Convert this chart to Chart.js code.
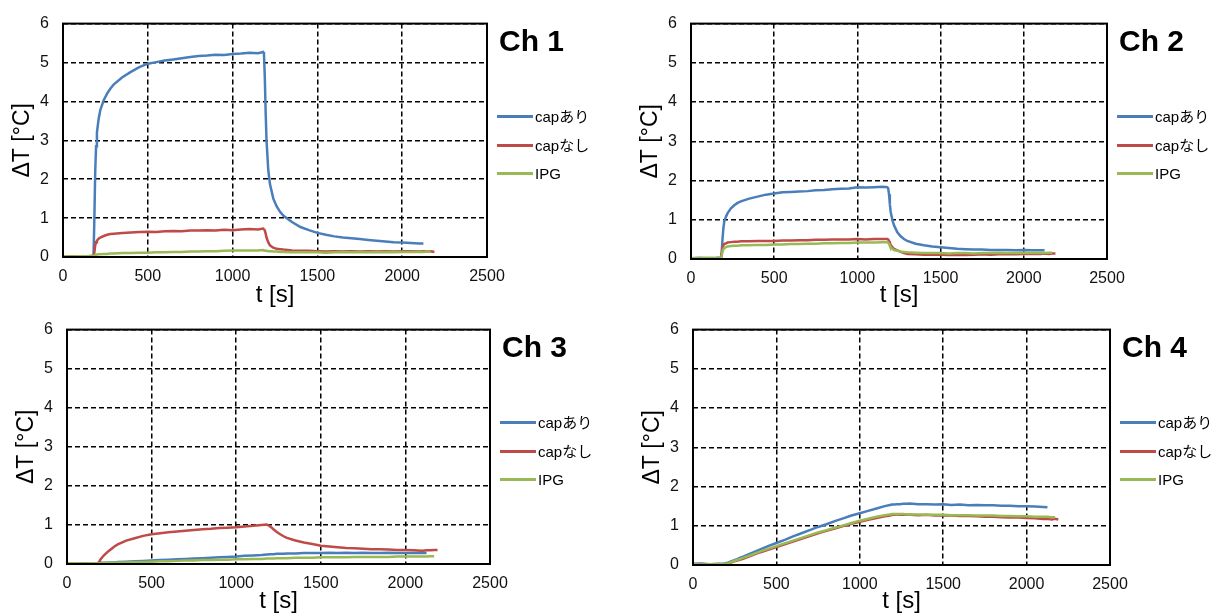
<!DOCTYPE html>
<html>
<head>
<meta charset="utf-8">
<script src="https://cdn.jsdelivr.net/npm/chart.js@4.4.1/dist/chart.umd.min.js"></script>
<style>
  html, body { margin: 0; padding: 0; background: #fff; width: 1214px; height: 616px; overflow: hidden; }
  body { position: relative; }
  canvas { position: absolute; }
</style>
</head>
<body>
<canvas id="ch1"></canvas>
<canvas id="ch2"></canvas>
<canvas id="ch3"></canvas>
<canvas id="ch4"></canvas>
<script>
// ---- sample times [s], shared by every series ----
const TIME = [
  0, 50, 100, 150, 180, 185, 190, 195, 200, 210, 220, 240, 260, 280,
  300, 350, 400, 450, 500, 550, 600, 650, 700, 750, 800, 850, 900, 950, 1000, 1050, 1100, 1150,
  1180, 1185, 1190, 1195, 1200, 1210, 1220, 1240, 1260, 1280, 1300,
  1350, 1400, 1450, 1500, 1550, 1600, 1650, 1700, 1750, 1800, 1850, 1900, 1950, 2000, 2050, 2100,
  2125, 2150, 2170, 2190
];

const SERIES_NAMES = ['capあり', 'capなし', 'IPG'];
const SERIES_COLORS = ['#4A7EBB', '#BE4B48', '#98B954'];
const CHANNEL_NAMES = ['Ch 1', 'Ch 2', 'Ch 3', 'Ch 4'];
const X_TICKS = [0, 500, 1000, 1500, 2000, 2500];
const Y_TICKS = [0, 1, 2, 3, 4, 5, 6];
const X_TITLE = 't [s]';
const Y_TITLE = 'ΔT [°C]';

// ---- ΔT [°C] per channel ----
const ch1Cap = [
  0.01, 0.02, 0.01, 0.02, 0.03, 1.0, 2.2, 2.85, 3.2, 3.55, 3.78, 4.03, 4.2, 4.33,
  4.44, 4.62, 4.76, 4.88, 4.97, 5.01, 5.05, 5.08, 5.11, 5.14, 5.17, 5.18, 5.2, 5.19, 5.22, 5.23, 5.25, 5.24,
  5.27, 5.22, 4.6, 3.7, 3.0, 2.25, 1.88, 1.5, 1.3, 1.16, 1.06,
  0.9, 0.77, 0.69, 0.62, 0.57, 0.53, 0.5, 0.48, 0.46, 0.44, 0.42, 0.4, 0.38, 0.37, 0.36, 0.35,
  0.35
];
const ch1NoCap = [
  0.0, 0.01, 0.0, 0.01, 0.01, 0.12, 0.3, 0.38, 0.42, 0.47, 0.5, 0.54, 0.57, 0.59,
  0.6, 0.62, 0.63, 0.64, 0.65, 0.64, 0.66, 0.67, 0.66, 0.68, 0.68, 0.69, 0.68, 0.7, 0.69, 0.71, 0.72, 0.71,
  0.73, 0.72, 0.68, 0.6, 0.5, 0.38, 0.3, 0.24, 0.21, 0.2, 0.19,
  0.17, 0.16, 0.16, 0.15, 0.14, 0.15, 0.14, 0.15, 0.14, 0.15, 0.14, 0.15, 0.14, 0.15, 0.15, 0.14,
  0.15, 0.14, 0.15, 0.13
];
const ch1Ipg = [
  0.02, 0.01, 0.02, 0.02, 0.03, 0.04, 0.05, 0.06, 0.06, 0.07, 0.07, 0.08, 0.08, 0.09,
  0.09, 0.1, 0.1, 0.11, 0.11, 0.12, 0.12, 0.13, 0.13, 0.14, 0.14, 0.15, 0.15, 0.16, 0.17, 0.17, 0.17, 0.17,
  0.18, 0.17, 0.17, 0.16, 0.16, 0.15, 0.15, 0.14, 0.14, 0.13, 0.13,
  0.12, 0.12, 0.12, 0.12, 0.11, 0.12, 0.12, 0.12, 0.13, 0.12, 0.12, 0.13, 0.12, 0.13, 0.13, 0.13,
  0.13, 0.14, 0.13
];

const ch2Cap = [
  0.02, 0.03, 0.02, 0.03, 0.04, 0.2, 0.55, 0.8, 0.95, 1.08, 1.17, 1.29, 1.37, 1.43,
  1.47, 1.54, 1.59, 1.64, 1.67, 1.7, 1.71, 1.72, 1.73, 1.75, 1.76, 1.78, 1.79, 1.8, 1.83, 1.82, 1.83, 1.84,
  1.83, 1.8, 1.65, 1.4, 1.2, 1.0, 0.86, 0.68, 0.58, 0.51, 0.46,
  0.39, 0.35, 0.32, 0.3, 0.28, 0.26, 0.25, 0.24, 0.24, 0.23, 0.23, 0.23, 0.22, 0.23, 0.22, 0.22,
  0.22
];
const ch2NoCap = [
  0.0, 0.01, 0.0, 0.01, 0.01, 0.15, 0.3, 0.35, 0.38, 0.4, 0.42, 0.43, 0.44, 0.44,
  0.45, 0.45, 0.46, 0.46, 0.46, 0.47, 0.47, 0.48, 0.48, 0.49, 0.49, 0.5, 0.5, 0.5, 0.51, 0.5, 0.51, 0.51,
  0.51, 0.5, 0.46, 0.41, 0.36, 0.3, 0.26, 0.22, 0.18, 0.15, 0.13,
  0.12, 0.11, 0.11, 0.11, 0.1, 0.11, 0.1, 0.11, 0.12, 0.11, 0.12, 0.12, 0.12, 0.13, 0.13, 0.13,
  0.14, 0.13, 0.14, 0.14
];
const ch2Ipg = [
  0.02, 0.02, 0.03, 0.02, 0.03, 0.1, 0.2, 0.25, 0.28, 0.3, 0.32, 0.33, 0.34, 0.34,
  0.35, 0.35, 0.36, 0.36, 0.37, 0.37, 0.38, 0.38, 0.39, 0.39, 0.4, 0.4, 0.41, 0.41, 0.42, 0.42, 0.42, 0.43,
  0.43, 0.42, 0.38, 0.33, 0.3, 0.26, 0.23, 0.21, 0.19, 0.18, 0.17,
  0.16, 0.15, 0.15, 0.15, 0.14, 0.15, 0.15, 0.14, 0.15, 0.15, 0.16, 0.15, 0.15, 0.16, 0.15, 0.16,
  0.15, 0.16, 0.16
];

const ch3Cap = [
  0.01, 0.02, 0.01, 0.02, 0.02, 0.02, 0.02, 0.02, 0.03, 0.03, 0.03, 0.03, 0.04, 0.04,
  0.05, 0.06, 0.07, 0.08, 0.09, 0.1, 0.11, 0.12, 0.13, 0.14, 0.15, 0.16, 0.17, 0.18, 0.19, 0.21, 0.22, 0.23,
  0.24, 0.24, 0.24, 0.25, 0.25, 0.25, 0.25, 0.26, 0.26, 0.26, 0.27,
  0.27, 0.28, 0.28, 0.28, 0.29, 0.28, 0.29, 0.28, 0.29, 0.28, 0.28, 0.29, 0.28, 0.28, 0.28, 0.29,
  0.28
];
const ch3NoCap = [
  0.0, 0.01, 0.0, 0.01, 0.01, 0.03, 0.06, 0.1, 0.13, 0.18, 0.23, 0.31, 0.38, 0.45,
  0.5, 0.6, 0.66, 0.72, 0.76, 0.79, 0.81, 0.83, 0.85, 0.87, 0.89, 0.9, 0.92, 0.93, 0.94, 0.96, 0.98, 1.0,
  1.01, 1.0, 0.99, 0.98, 0.96, 0.93, 0.89, 0.82, 0.76, 0.71, 0.67,
  0.6, 0.55, 0.51, 0.47, 0.45, 0.43, 0.41, 0.4, 0.39, 0.38, 0.38, 0.37, 0.36, 0.36, 0.35, 0.34,
  0.35, 0.35, 0.36, 0.36
];
const ch3Ipg = [
  0.02, 0.02, 0.01, 0.02, 0.02, 0.02, 0.02, 0.02, 0.02, 0.02, 0.03, 0.03, 0.03, 0.03,
  0.04, 0.04, 0.05, 0.05, 0.06, 0.07, 0.07, 0.08, 0.09, 0.09, 0.1, 0.1, 0.11, 0.11, 0.12, 0.12, 0.13, 0.13,
  0.14, 0.14, 0.14, 0.14, 0.14, 0.14, 0.14, 0.15, 0.15, 0.15, 0.15,
  0.16, 0.16, 0.16, 0.17, 0.17, 0.17, 0.17, 0.18, 0.18, 0.18, 0.18, 0.18, 0.19, 0.19, 0.19, 0.19,
  0.19, 0.2, 0.2
];

const ch4Cap = [
  0.03, 0.04, 0.02, 0.03, 0.03, 0.03, 0.04, 0.04, 0.05, 0.06, 0.08, 0.11, 0.14, 0.18,
  0.21, 0.3, 0.39, 0.48, 0.56, 0.64, 0.73, 0.81, 0.89, 0.97, 1.04, 1.12, 1.19, 1.26, 1.32, 1.38, 1.44, 1.5,
  1.53, 1.53, 1.54, 1.54, 1.54, 1.54, 1.55, 1.55, 1.56, 1.56, 1.57,
  1.55, 1.55, 1.54, 1.55, 1.53, 1.54, 1.52, 1.53, 1.52, 1.52, 1.51, 1.51, 1.5, 1.5, 1.49, 1.48,
  1.47
];
const ch4NoCap = [
  0.01, 0.02, 0.01, 0.01, 0.01, 0.01, 0.01, 0.02, 0.02, 0.03, 0.05, 0.08, 0.11, 0.13,
  0.16, 0.24, 0.32, 0.39, 0.46, 0.53, 0.6, 0.67, 0.74, 0.81, 0.87, 0.93, 0.99, 1.05, 1.1, 1.15, 1.2, 1.24,
  1.26, 1.27, 1.27, 1.28, 1.28, 1.28, 1.29, 1.28, 1.29, 1.28, 1.28,
  1.27, 1.28, 1.26, 1.27, 1.26, 1.25, 1.25, 1.24, 1.23, 1.23, 1.22, 1.21, 1.21, 1.2, 1.19, 1.17,
  1.18, 1.16, 1.18, 1.16
];
const ch4Ipg = [
  0.02, 0.01, 0.02, 0.02, 0.02, 0.02, 0.02, 0.03, 0.03, 0.04, 0.06, 0.09, 0.12, 0.15,
  0.18, 0.26, 0.34, 0.41, 0.48, 0.55, 0.62, 0.69, 0.76, 0.83, 0.89, 0.95, 1.01, 1.07, 1.13, 1.18, 1.23, 1.27,
  1.29, 1.29, 1.3, 1.3, 1.3, 1.3, 1.3, 1.3, 1.3, 1.29, 1.29,
  1.29, 1.28, 1.28, 1.28, 1.27, 1.27, 1.27, 1.26, 1.26, 1.26, 1.25, 1.25, 1.24, 1.24, 1.23, 1.23,
  1.23, 1.22, 1.22
];

const CHANNEL_SERIES = [
  [ch1Cap, ch1NoCap, ch1Ipg],
  [ch2Cap, ch2NoCap, ch2Ipg],
  [ch3Cap, ch3NoCap, ch3Ipg],
  [ch4Cap, ch4NoCap, ch4Ipg]
];

// ---- page layout: canvas rectangle and plot-frame rectangle of each panel ----
const PANEL_LAYOUT = [
  { canvas: { x: 0,   y: 0,   w: 607, h: 310 }, frame: { left: 63,  right: 487,  top: 15,  bottom: 257 } },
  { canvas: { x: 607, y: 0,   w: 607, h: 310 }, frame: { left: 691, right: 1107, top: 15,  bottom: 259 } },
  { canvas: { x: 0,   y: 306, w: 607, h: 310 }, frame: { left: 67,  right: 490,  top: 319, bottom: 564 } },
  { canvas: { x: 607, y: 306, w: 607, h: 310 }, frame: { left: 693, right: 1110, top: 319, bottom: 565 } }
];
const LEGEND_ROW_OFFSETS = [93, 122, 150];
const FONT_LATIN = '"Liberation Sans", Arial, Helvetica, sans-serif';
const FONT_MIXED = '"Liberation Sans", "Noto Sans CJK JP", Arial, sans-serif';
const TICK_FONT = 16;
const Y_TITLE_FONT = 23;
const X_TITLE_FONT = 24;

// Frame, channel name and legend at the right of each plot
const panelDecor = {
  id: 'panelDecor',
  afterDatasetsDraw(chart, args, opts) {
    const { ctx, chartArea: a } = chart;
    ctx.save();
    ctx.setLineDash([]);
    ctx.lineWidth = 2;
    ctx.strokeStyle = '#000';
    ctx.strokeRect(a.left, a.top, a.right - a.left, a.bottom - a.top);

    ctx.fillStyle = '#000';
    ctx.textAlign = 'left';
    ctx.textBaseline = 'alphabetic';
    ctx.font = 'bold 30px ' + FONT_LATIN;
    ctx.fillText(opts.name, a.right + 12, a.top + 27);

    ctx.font = '15px ' + FONT_MIXED;
    ctx.textBaseline = 'middle';
    chart.data.datasets.forEach((ds, i) => {
      const y = a.top + LEGEND_ROW_OFFSETS[i];
      ctx.strokeStyle = ds.borderColor;
      ctx.lineWidth = 3;
      ctx.beginPath();
      ctx.moveTo(a.right + 10, y);
      ctx.lineTo(a.right + 46, y);
      ctx.stroke();
      ctx.fillStyle = '#000';
      ctx.fillText(ds.label, a.right + 48, y + 1);
    });
    ctx.restore();
  }
};

function buildChart(index) {
  const { canvas: c, frame: f } = PANEL_LAYOUT[index];
  const el = document.getElementById('ch' + (index + 1));
  el.width = c.w;
  el.height = c.h;
  el.style.left = c.x + 'px';
  el.style.top = c.y + 'px';

  const yTitleCenter = f.left - 40 - c.x;
  const yTitleLine = Y_TITLE_FONT * 1.2;

  const datasets = CHANNEL_SERIES[index].map((values, s) => ({
    label: SERIES_NAMES[s],
    data: values.map((v, i) => ({ x: TIME[i], y: v })),
    borderColor: SERIES_COLORS[s],
    backgroundColor: SERIES_COLORS[s],
    borderWidth: 2.5,
    pointRadius: 0,
    tension: 0,
    fill: false,
    order: 3 - s
  }));

  const plainNumber = (v) => String(v);

  return new Chart(el, {
    type: 'line',
    data: { datasets },
    plugins: [panelDecor],
    options: {
      responsive: false,
      animation: false,
      devicePixelRatio: 1,
      layout: {
        padding: { left: 0, top: f.top - c.y, right: c.x + c.w - f.right, bottom: 0 }
      },
      plugins: {
        legend: { display: false },
        tooltip: { enabled: false },
        panelDecor: { name: CHANNEL_NAMES[index] }
      },
      scales: {
        x: {
          type: 'linear',
          min: X_TICKS[0],
          max: X_TICKS[X_TICKS.length - 1],
          afterBuildTicks: (scale) => { scale.ticks = X_TICKS.map(v => ({ value: v })); },
          afterFit: (scale) => { scale.height = c.y + c.h - f.bottom; },
          ticks: { color: '#111', padding: 10, maxRotation: 0, autoSkip: false, callback: plainNumber,
                   font: { family: FONT_LATIN, size: TICK_FONT } },
          grid: { color: '#000', lineWidth: 1.5, drawTicks: false },
          border: { display: false, dash: [5, 3] },
          title: {
            display: true, text: X_TITLE, color: '#000',
            font: { family: FONT_LATIN, size: X_TITLE_FONT },
            padding: { top: 0, bottom: 0 }
          }
        },
        y: {
          type: 'linear',
          min: Y_TICKS[0],
          max: Y_TICKS[Y_TICKS.length - 1],
          afterBuildTicks: (scale) => { scale.ticks = Y_TICKS.map(v => ({ value: v })); },
          afterFit: (scale) => { scale.width = f.left - c.x; },
          ticks: { color: '#111', padding: 14, callback: plainNumber,
                   font: { family: FONT_LATIN, size: TICK_FONT } },
          grid: { color: '#000', lineWidth: 1.5, drawTicks: false },
          border: { display: false, dash: [5, 3] },
          title: {
            display: true, text: Y_TITLE, color: '#000',
            font: { family: FONT_LATIN, size: Y_TITLE_FONT },
            padding: { top: yTitleCenter - yTitleLine / 2, bottom: 0 }
          }
        }
      }
    }
  });
}

[0, 1, 2, 3].forEach(buildChart);
</script>
</body>
</html>
